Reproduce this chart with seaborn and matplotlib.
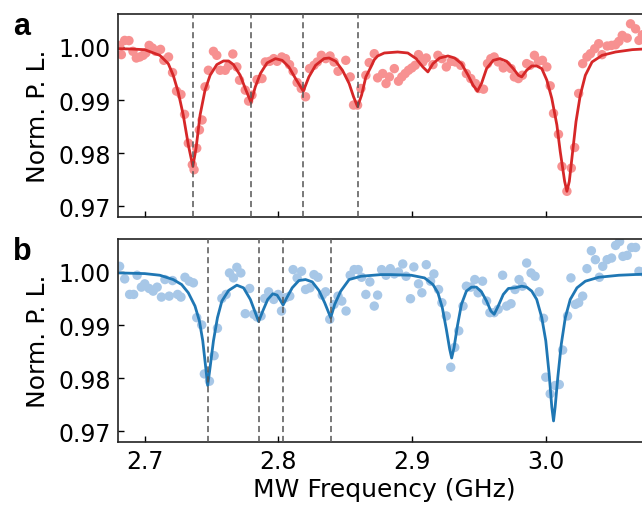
import numpy as np
import pandas as pd
import seaborn as sns
from matplotlib import pyplot as plt
from matplotlib.ticker import FormatStrFormatter

# ---- panel a: measured points ----
freq_a = [2.6812, 2.6825, 2.6850, 2.6882, 2.6912, 2.6937, 2.6963, 2.6988, 2.7008, 2.7033,
          2.7058, 2.7083, 2.7118, 2.7143, 2.7178, 2.7208, 2.7238, 2.7271, 2.7298, 2.7326,
          2.7356, 2.7369, 2.7389, 2.7409, 2.7429, 2.7451, 2.7476, 2.7514, 2.7539, 2.7564,
          2.7602, 2.7627, 2.7659, 2.7689, 2.7709, 2.7752, 2.7777, 2.7802, 2.7840, 2.7877,
          2.7902, 2.7935, 2.7965, 2.7990, 2.8025, 2.8053, 2.8083, 2.8110, 2.8140, 2.8171,
          2.8203, 2.8233, 2.8266, 2.8291, 2.8321, 2.8354, 2.8386, 2.8416, 2.8446, 2.8504,
          2.8537, 2.8562, 2.8592, 2.8617, 2.8654, 2.8679, 2.8717, 2.8742, 2.8780, 2.8805,
          2.8830, 2.8867, 2.8898, 2.8923, 2.8948, 2.8973, 2.8998, 2.9023, 2.9048, 2.9080,
          2.9106, 2.9156, 2.9193, 2.9223, 2.9256, 2.9293, 2.9324, 2.9364, 2.9406, 2.9439,
          2.9474, 2.9499, 2.9534, 2.9564, 2.9589, 2.9614, 2.9644, 2.9682, 2.9707, 2.9740,
          2.9765, 2.9795, 2.9825, 2.9857, 2.9882, 2.9915, 2.9945, 2.9975, 3.0008, 3.0033,
          3.0058, 3.0095, 3.0121, 3.0158, 3.0191, 3.0216, 3.0246, 3.0276, 3.0308, 3.0334,
          3.0366, 3.0396, 3.0421, 3.0459, 3.0492, 3.0522, 3.0547, 3.0572, 3.0609, 3.0634,
          3.0672, 3.0697, 3.0722]
pl_a = [1.0003, 0.99856, 1.00124, 1.0012, 0.99918, 0.99793, 0.99812, 0.99843, 0.99887, 1.0003,
        0.99980, 0.99918, 0.99955, 0.99749, 0.99812, 0.99519, 0.99169, 0.99107, 0.98732, 0.98189,
        0.97783, 0.97690, 0.98095, 0.98439, 0.98626, 0.99250, 0.99562, 0.99918, 0.99843, 0.99562,
        0.99562, 0.99643, 0.99868, 0.99625, 0.99375, 0.99188, 0.98982, 0.99094, 0.99387, 0.99406,
        0.99718, 0.99731, 0.99781, 0.99731, 0.99812, 0.99781, 0.99668, 0.99543, 0.99331, 0.99219,
        0.99063, 0.99593, 0.99656, 0.99718, 0.99843, 0.99781, 0.99831, 0.99718, 0.99543, 0.99749,
        0.99437, 0.98907, 0.98907, 0.99219, 0.99468, 0.99706, 0.99874, 0.99419, 0.99500, 0.99312,
        0.99437, 0.99593, 0.99356, 0.99437, 0.99500, 0.99562, 0.99606, 0.99656, 0.99856, 0.99718,
        0.99793, 0.99668, 0.99843, 0.99781, 0.99625, 0.99731, 0.99718, 0.99656, 0.99500, 0.99406,
        0.99312, 0.99219, 0.99206, 0.99687, 0.99781, 0.99812, 0.99718, 0.99606, 0.99656, 0.99593,
        0.99437, 0.99406, 0.99468, 0.99687, 0.99656, 0.99843, 0.99731, 0.99749, 0.99625, 0.99269,
        0.98751, 0.98357, 0.97752, 0.97284, 0.97721, 0.98108, 0.99125, 0.99687, 0.99812, 0.99874,
        0.99968, 1.00062, 0.99856, 1.00018, 1.00030, 1.00043, 1.00105, 1.00218, 1.00168, 1.00436,
        1.00342, 1.00124, 1.00230]

# ---- panel a: fitted curve ----
fit_freq_a = [2.680, 2.690, 2.700, 2.7113, 2.7176, 2.7213, 2.7250, 2.7288, 2.7326, 2.7360,
              2.7384, 2.7414, 2.7451, 2.7489, 2.7539, 2.7589, 2.7627, 2.7664, 2.7714, 2.7752,
              2.7795, 2.7827, 2.7865, 2.7915, 2.7978, 2.8028, 2.8078, 2.8128, 2.8186, 2.8228,
              2.8278, 2.8341, 2.8379, 2.8429, 2.8479, 2.8529, 2.8562, 2.8592, 2.8622, 2.8654,
              2.8692, 2.8717, 2.8742, 2.8792, 2.8892, 2.8968, 2.9030, 2.9080, 2.9118, 2.9156,
              2.9206, 2.9268, 2.9318, 2.9369, 2.9419, 2.9456, 2.9489, 2.9519, 2.9557, 2.9607,
              2.9657, 2.9707, 2.9757, 2.9795, 2.9820, 2.9857, 2.9895, 2.9932, 2.9970, 3.0008,
              3.0045, 3.0083, 3.0108, 3.0141, 3.0158, 3.0176, 3.0201, 3.0226, 3.0258, 3.0296,
              3.0346, 3.0421, 3.0522, 3.0647, 3.0790]
fit_pl_a = [0.99968, 0.99962, 0.99949, 0.99843, 0.99687, 0.99468, 0.99156, 0.98720, 0.98158, 0.97752,
            0.98095, 0.98720, 0.99188, 0.99468, 0.99668, 0.99737, 0.99737, 0.99668, 0.99468, 0.99219,
            0.98957, 0.99250, 0.99500, 0.99700, 0.99781, 0.99749, 0.99625, 0.99406, 0.99169, 0.99437,
            0.99656, 0.99781, 0.99793, 0.99731, 0.99562, 0.99312, 0.99063, 0.98876, 0.99094, 0.99437,
            0.99625, 0.99760, 0.99830, 0.99887, 0.99906, 0.99887, 0.99781, 0.99625, 0.99531, 0.99687,
            0.99793, 0.99831, 0.99793, 0.99687, 0.99468, 0.99281, 0.99169, 0.99312, 0.99593, 0.99749,
            0.99781, 0.99731, 0.99593, 0.99468, 0.99437, 0.99562, 0.99643, 0.99643, 0.99593, 0.99375,
            0.99032, 0.98532, 0.98033, 0.97471, 0.97284, 0.97471, 0.98033, 0.98595, 0.99094, 0.99468,
            0.99718, 0.99843, 0.99906, 0.99950, 0.99970]

# ---- panel b: measured points ----
freq_b = [2.6812, 2.6850, 2.6887, 2.6917, 2.6943, 2.6975, 2.7000, 2.7033, 2.7063, 2.7093,
          2.7125, 2.7151, 2.7183, 2.7208, 2.7246, 2.7271, 2.7301, 2.7333, 2.7364, 2.7389,
          2.7426, 2.7446, 2.7484, 2.7519, 2.7544, 2.7577, 2.7609, 2.7634, 2.7664, 2.7689,
          2.7719, 2.7752, 2.7785, 2.7815, 2.7840, 2.7870, 2.7897, 2.7927, 2.7965, 2.7998,
          2.8023, 2.8053, 2.8085, 2.8110, 2.8140, 2.8173, 2.8203, 2.8236, 2.8266, 2.8296,
          2.8328, 2.8353, 2.8384, 2.8416, 2.8446, 2.8474, 2.8506, 2.8537, 2.8567, 2.8597,
          2.8622, 2.8654, 2.8684, 2.8717, 2.8742, 2.8772, 2.8805, 2.8837, 2.8867, 2.8898,
          2.8930, 2.8955, 2.8988, 2.9013, 2.9048, 2.9073, 2.9106, 2.9138, 2.9163, 2.9198,
          2.9223, 2.9256, 2.9289, 2.9319, 2.9349, 2.9381, 2.9406, 2.9439, 2.9469, 2.9494,
          2.9527, 2.9557, 2.9582, 2.9614, 2.9644, 2.9677, 2.9707, 2.9740, 2.9770, 2.9800,
          2.9825, 2.9857, 2.9890, 2.9920, 2.9950, 2.9983, 3.0000, 3.0033, 3.0070, 3.0101,
          3.0126, 3.0163, 3.0188, 3.0221, 3.0246, 3.0276, 3.0308, 3.0341, 3.0371, 3.0401,
          3.0426, 3.0459, 3.0492, 3.0522, 3.0552, 3.0577, 3.0609, 3.0642, 3.0672, 3.0697,
          3.0727]
pl_b = [1.00106, 0.99869, 0.99577, 0.99577, 0.99938, 0.99714, 0.99776, 0.99689, 0.99639, 0.99714,
        0.99527, 0.99857, 0.99545, 0.99838, 0.99577, 0.99527, 0.99900, 0.99826, 0.99795, 0.99140,
        0.99003, 0.98081, 0.97944, 0.98424, 0.98941, 0.99502, 0.99577, 0.99981, 0.99888, 1.00087,
        0.99981, 0.99215, 0.99689, 0.99203, 0.99153, 0.99171, 0.99502, 0.99626, 0.99483, 0.99577,
        0.99265, 0.99514, 0.99545, 1.00044, 0.99888, 1.00013, 0.99670, 0.99701, 0.99950, 0.99900,
        0.99564, 0.99626, 0.99109, 0.99390, 0.99545, 0.99452, 0.99265, 0.99938, 1.00044, 1.00044,
        0.99900, 0.99577, 0.99813, 0.99358, 0.99564, 1.00044, 0.99938, 1.00062, 0.99963, 1.00000,
        1.00150, 0.99919, 0.99496, 1.00094, 0.99776, 0.99608, 1.00137, 0.99826, 0.99963, 0.99670,
        0.99421, 0.99172, 0.98206, 0.98580, 0.98891, 0.99358, 0.99732, 0.99714, 0.99857, 0.99608,
        0.99826, 0.99452, 0.99234, 0.99234, 0.99296, 0.99938, 0.99358, 0.99402, 0.99670, 0.99857,
        0.99732, 1.00168, 0.99981, 0.99919, 0.99626, 0.99128, 0.98019, 0.97707, 0.97863, 0.97882,
        0.98530, 0.99172, 0.99888, 0.99390, 0.99421, 0.99545, 1.00062, 1.00399, 1.00231, 0.99900,
        1.00106, 1.00231, 1.00262, 1.00499, 1.00573, 1.00293, 1.00312, 1.00461, 1.00461, 1.00013,
        1.00000]

# ---- panel b: fitted curve ----
fit_freq_b = [2.680, 2.700, 2.7113, 2.7213, 2.7276, 2.7326, 2.7376, 2.7409, 2.7434, 2.7456,
              2.7471, 2.7489, 2.7514, 2.7544, 2.7577, 2.7627, 2.7689, 2.7739, 2.7790, 2.7827,
              2.7852, 2.7885, 2.7920, 2.7958, 2.7990, 2.8015, 2.8035, 2.8060, 2.8103, 2.8153,
              2.8203, 2.8253, 2.8303, 2.8346, 2.8391, 2.8421, 2.8466, 2.8529, 2.8617, 2.8767,
              2.8842, 2.8993, 2.9093, 2.9156, 2.9193, 2.9226, 2.9256, 2.9281, 2.9296, 2.9314,
              2.9339, 2.9369, 2.9406, 2.9444, 2.9481, 2.9519, 2.9557, 2.9589, 2.9614, 2.9644,
              2.9682, 2.9720, 2.9770, 2.9820, 2.9857, 2.9895, 2.9932, 2.9970, 3.0000, 3.0025,
              3.0045, 3.0058, 3.0070, 3.0090, 3.0116, 3.0146, 3.0183, 3.0233, 3.0296, 3.0396,
              3.0547, 3.0790]
fit_pl_b = [0.99982, 0.99969, 0.99938, 0.99857, 0.99763, 0.99608, 0.99358, 0.99078, 0.98704, 0.98206,
            0.97863, 0.98206, 0.98704, 0.99140, 0.99452, 0.99651, 0.99751, 0.99701, 0.99483, 0.99234,
            0.99066, 0.99277, 0.99483, 0.99589, 0.99564, 0.99464, 0.99377, 0.99502, 0.99701, 0.99838,
            0.99857, 0.99813, 0.99651, 0.99421, 0.99140, 0.99390, 0.99639, 0.99857, 0.99919, 0.99950,
            0.99950, 0.99938, 0.99888, 0.99763, 0.99608, 0.99327, 0.98922, 0.98548, 0.98380, 0.98580,
            0.98985, 0.99390, 0.99639, 0.99714, 0.99714, 0.99626, 0.99452, 0.99265, 0.99203, 0.99358,
            0.99577, 0.99689, 0.99701, 0.99732, 0.99714, 0.99639, 0.99483, 0.99140, 0.98704, 0.98081,
            0.97458, 0.97196, 0.97458, 0.98019, 0.98642, 0.99140, 0.99483, 0.99701, 0.99826, 0.99900,
            0.99938, 0.99965]

# resonance markers (dashed lines)
lines_a = [2.7359, 2.7797, 2.8186, 2.8592]
lines_b = [2.7471, 2.7852, 2.8035, 2.8391]

x_ticks = [2.7, 2.8, 2.9, 3.0]
y_ticks = [0.97, 0.98, 0.99, 1.00]

sns.set_style('white')
plt.rcParams['font.family'] = ['DejaVu Sans']
plt.rcParams['xtick.direction'] = 'in'
plt.rcParams['ytick.direction'] = 'in'
plt.rcParams['text.color'] = 'black'
plt.rcParams['axes.labelcolor'] = 'black'
plt.rcParams['xtick.color'] = 'black'
plt.rcParams['ytick.color'] = 'black'

fig = plt.figure(figsize=(6.42, 5.10), dpi=100)
ax_a = fig.add_axes([0.1838, 0.5725, 0.83, 0.398])
ax_b = fig.add_axes([0.1838, 0.1314, 0.83, 0.398])

panels = [
    (ax_a, freq_a, pl_a, fit_freq_a, fit_pl_a, lines_a, '#f79191', '#d62728', 'a'),
    (ax_b, freq_b, pl_b, fit_freq_b, fit_pl_b, lines_b, '#a7c7e7', '#1f77b4', 'b'),
]

for ax, fx, fy, cx, cy, vl, dot_c, line_c, letter in panels:
    pts = pd.DataFrame({'freq': fx, 'pl': fy})
    fit = pd.DataFrame({'freq': cx, 'pl': cy})
    sns.scatterplot(data=pts, x='freq', y='pl', ax=ax, color=dot_c, s=46,
                    edgecolor='none', zorder=1)
    sns.lineplot(data=fit, x='freq', y='pl', ax=ax, color=line_c, lw=2.0,
                 estimator=None, sort=False, zorder=2)
    for v in vl:
        ax.axvline(v, color='#555555', lw=1.1, ls=(0, (4, 2.5)), zorder=3)

    ax.set_xlim(2.68, 3.0786)
    ax.set_ylim(0.968, 1.0062)
    ax.set_xticks(x_ticks)
    ax.set_yticks(y_ticks)
    ax.yaxis.set_major_formatter(FormatStrFormatter('%.2f'))
    ax.tick_params(labelsize=17, length=4, width=1, left=True, bottom=True, pad=5)
    ax.set_ylabel('Norm. P. L.', fontsize=18, labelpad=6)
    ax.set_xlabel('')
    for sp in ax.spines.values():
        sp.set_color('#222222')
        sp.set_linewidth(1.2)
    bb = ax.get_position()
    fig.text(0.02, bb.y1 + 0.006, letter, fontsize=22, fontweight='bold',
             family=['Liberation Sans', 'DejaVu Sans'], va='top', ha='left')

ax_a.tick_params(labelbottom=False)
ax_b.set_xlabel('MW Frequency (GHz)', fontsize=18, labelpad=3)

fig.savefig('out.png', dpi=100)
